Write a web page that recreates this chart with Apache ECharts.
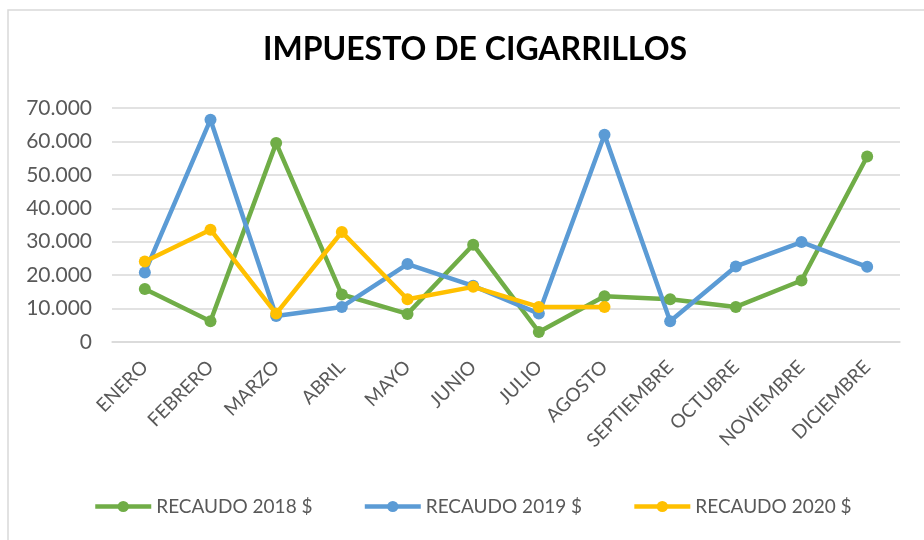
<!DOCTYPE html>
<html lang="es" style="height: 100%">
<head>
  <meta charset="utf-8">
  <title>impuesto-cigarrillos</title>
</head>
<body style="height: 100%; margin: 0; background: #fff">
  <div id="container" style="width: 924px;height: 540px"></div>

  <script type="text/javascript" src="https://cdn.jsdelivr.net/npm/echarts@6/dist/echarts.min.js"></script>

  <script type="text/javascript">
    var dom = document.getElementById('container');
    var myChart = echarts.init(dom, null, { renderer: 'canvas' });

    const meses = ['ENERO', 'FEBRERO', 'MARZO', 'ABRIL', 'MAYO', 'JUNIO', 'JULIO',
                   'AGOSTO', 'SEPTIEMBRE', 'OCTUBRE', 'NOVIEMBRE', 'DICIEMBRE'];
    const recaudo2018 = [15850, 6200, 59500, 14200, 8400, 29100, 3000, 13700, 12800, 10500, 18400, 55500];
    const recaudo2019 = [20800, 66500, 7800, 10500, 23300, 16800, 8500, 62000, 6200, 22600, 29900, 22500];
    const recaudo2020 = [24100, 33600, 8500, 32900, 12800, 16500, 10500, 10500];

    const font = 'Lato, "Open Sans", sans-serif';
    const textColor = '#595959';
    const gridColor = '#d9d9d9';

    function serie(name, data, color) {
      return {
        name: name,
        type: 'line',
        data: data,
        symbol: 'circle',
        symbolSize: 12,
        lineStyle: { width: 4.5, color: color },
        itemStyle: { color: color },
        emphasis: { disabled: true }
      };
    }

    var option = {
      animation: false,
      textStyle: { fontFamily: font },
      title: {
        text: 'IMPUESTO DE CIGARRILLOS',
        left: 470,
        textAlign: 'center',
        top: 29,
        textStyle: { fontFamily: font, fontSize: 32, fontWeight: 'bold', color: '#000' }
      },
      graphic: [{
        type: 'rect',
        shape: { x: 8, y: 10, width: 1000, height: 1000 },
        style: { fill: 'none', stroke: gridColor, lineWidth: 1.5 },
        silent: true
      }],
      grid: { left: 112, right: 24, top: 108, bottom: 198 },
      xAxis: {
        type: 'category',
        data: meses,
        boundaryGap: true,
        axisLine: { show: true, lineStyle: { color: gridColor, width: 1.5 } },
        axisTick: { show: false },
        axisLabel: {
          rotate: 45,
          margin: 22,
          interval: 0,
          fontFamily: font,
          fontSize: 19,
          color: textColor
        }
      },
      yAxis: {
        type: 'value',
        min: 0,
        max: 70000,
        interval: 10000,
        axisLine: { show: false },
        axisTick: { show: false },
        splitLine: { lineStyle: { color: gridColor, width: 1.5 } },
        axisLabel: {
          margin: 20,
          fontFamily: font,
          fontSize: 21,
          color: textColor,
          formatter: function (v) {
            return String(v).replace(/\B(?=(\d{3})+(?!\d))/g, '.');
          }
        }
      },
      legend: {
        left: 88,
        top: 492,
        itemWidth: 56,
        itemHeight: 14,
        itemGap: 50,
        lineStyle: { width: 4.5 },
        textStyle: { fontFamily: font, fontSize: 19, color: textColor },
        data: ['RECAUDO 2018 $', 'RECAUDO 2019 $', 'RECAUDO 2020 $']
      },
      series: [
        serie('RECAUDO 2018 $', recaudo2018, '#70AD47'),
        serie('RECAUDO 2019 $', recaudo2019, '#5B9BD5'),
        serie('RECAUDO 2020 $', recaudo2020, '#FFC000')
      ]
    };

    myChart.setOption(option);
    window.addEventListener('resize', myChart.resize);
  </script>
</body>
</html>
